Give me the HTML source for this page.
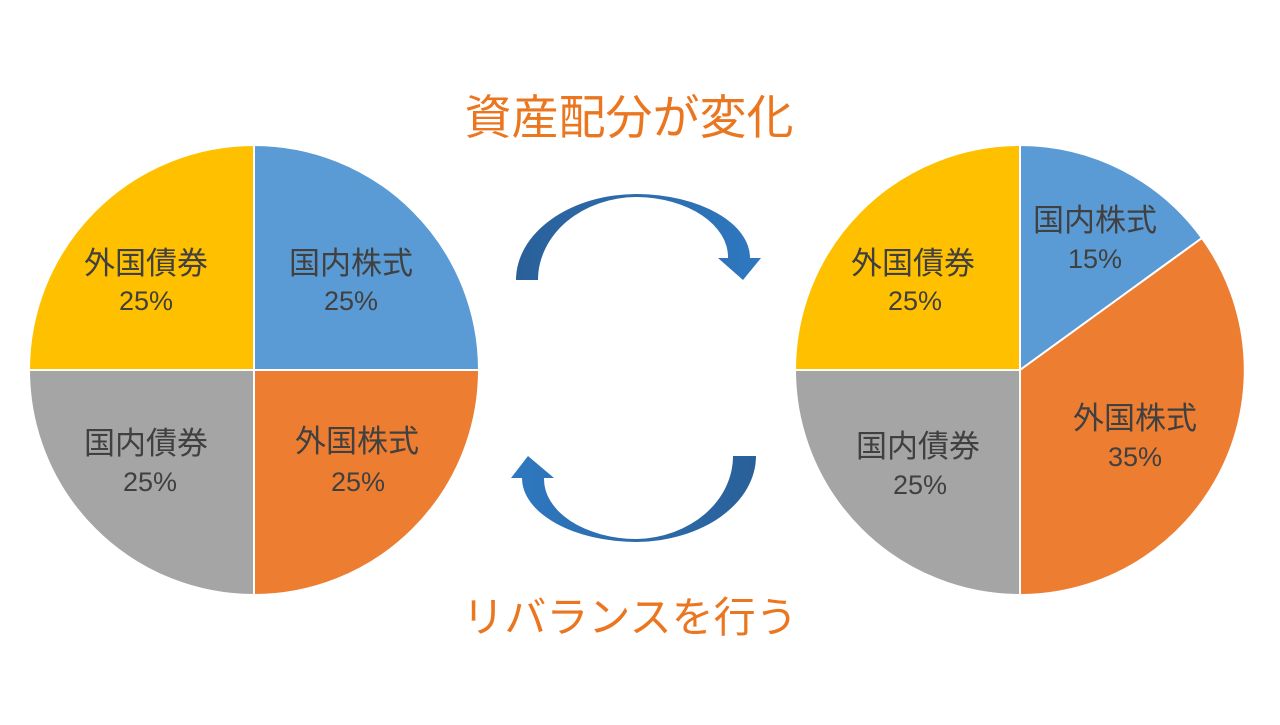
<!DOCTYPE html>
<html><head><meta charset="utf-8"><style>
body{margin:0;width:1280px;height:720px;background:#fff;overflow:hidden}
svg text{font-family:"Liberation Sans","Noto Sans CJK JP",sans-serif}
</style></head><body>
<svg width="1280" height="720" viewBox="0 0 1280 720">
<defs>
<linearGradient id="g1" x1="0" x2="1" y1="0" y2="0"><stop offset="0" stop-color="#2a6099"/><stop offset="1" stop-color="#2e78c0"/></linearGradient>
<linearGradient id="g2" x1="1" x2="0" y1="0" y2="0"><stop offset="0" stop-color="#2a6099"/><stop offset="1" stop-color="#2e78c0"/></linearGradient>
</defs>
<g stroke="#fff" stroke-width="2">
<path d="M254,370 L254,145 A225,225 0 0 1 479,370 Z" fill="#5b9bd5"/>
<path d="M254,370 L479,370 A225,225 0 0 1 254,595 Z" fill="#ed7d31"/>
<path d="M254,370 L254,595 A225,225 0 0 1 29,370 Z" fill="#a5a5a5"/>
<path d="M254,370 L29,370 A225,225 0 0 1 254,145 Z" fill="#ffc000"/>
<path d="M1020,370 L1020,145 A225,225 0 0 1 1202,238 Z" fill="#5b9bd5"/>
<path d="M1020,370 L1202,238 A225,225 0 0 1 1020,595 Z" fill="#ed7d31"/>
<path d="M1020,370 L1020,595 A225,225 0 0 1 795,370 Z" fill="#a5a5a5"/>
<path d="M1020,370 L795,370 A225,225 0 0 1 1020,145 Z" fill="#ffc000"/>
</g>
<path d="M516,280 A121,86 0 0 1 637,194 A115,64 0 0 1 750,258 L761,258 L743,280 L718,258 L728,258 A93,60 0 0 0 637,197 A99,83 0 0 0 538,280 Z" fill="url(#g1)"/>
<path d="M756,456 A121,86 0 0 1 637,542 A115,64 0 0 1 522,478 L511,478 L528,456 L554,478 L544,478 A93,60 0 0 0 637,539 A99,83 0 0 0 733,456 Z" fill="url(#g2)"/>
<g fill="#eb7620" text-anchor="middle">
<text x="629" y="134" font-size="47">資産配分が変化</text>
<text x="630" y="632" font-size="42">リバランスを行う</text>
</g>
<g fill="#404040" text-anchor="middle">
<g font-size="31">
<text x="351" y="274">国内株式</text>
<text x="146" y="274">外国債券</text>
<text x="146" y="454">国内債券</text>
<text x="357" y="452">外国株式</text>
<text x="1095" y="231">国内株式</text>
<text x="913" y="274">外国債券</text>
<text x="918" y="457">国内債券</text>
<text x="1135" y="429">外国株式</text>
</g>
<g font-size="27">
<text x="351" y="310">25%</text>
<text x="146" y="310">25%</text>
<text x="150" y="491">25%</text>
<text x="358" y="491">25%</text>
<text x="1095" y="268">15%</text>
<text x="915" y="310">25%</text>
<text x="920" y="494">25%</text>
<text x="1135" y="466">35%</text>
</g>
</g>
</svg>
</body></html>
